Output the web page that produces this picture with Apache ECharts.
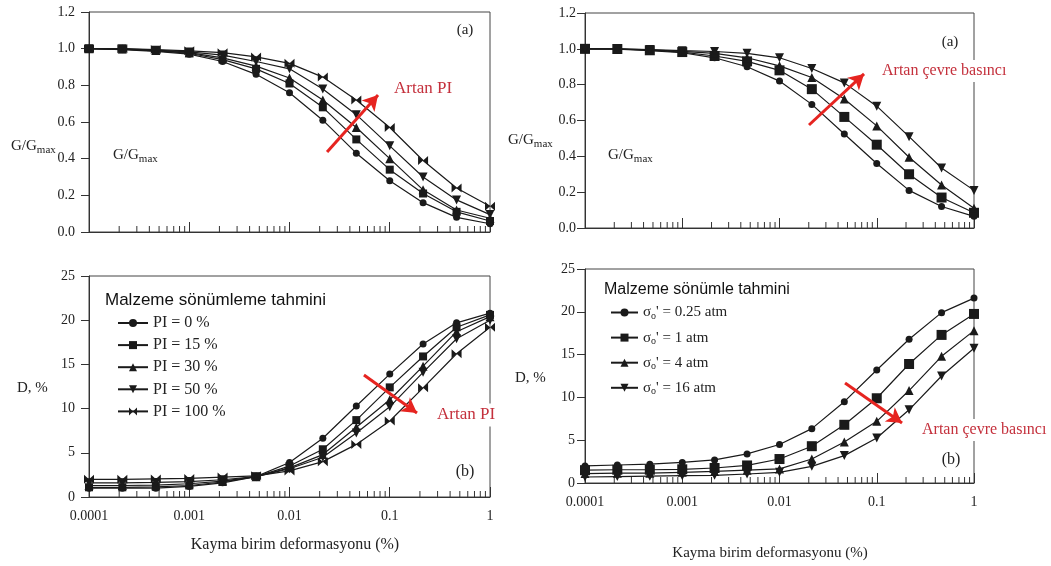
<!DOCTYPE html>
<html><head><meta charset="utf-8">
<script src="https://cdn.jsdelivr.net/npm/echarts@6/dist/echarts.min.js"></script>
<style>html,body{margin:0;padding:0;background:#fff}#c{width:1051px;height:566px}</style>
</head><body><div id="c"></div>
<script>
// ---- data ----
const strain = [0.0001, 0.000215, 0.000464, 0.001, 0.00215, 0.00464, 0.01, 0.0215, 0.0464, 0.1, 0.215, 0.464, 1];
const xTickLabels = {0.0001: '0.0001', 0.001: '0.001', 0.01: '0.01', 0.1: '0.1', 1: '1'};
const minorTickValues = [0.0002,0.0003,0.0004,0.0005,0.0006,0.0007,0.0008,0.0009,
  0.002,0.003,0.004,0.005,0.006,0.007,0.008,0.009,
  0.02,0.03,0.04,0.05,0.06,0.07,0.08,0.09,
  0.2,0.3,0.4,0.5,0.6,0.7,0.8,0.9];

const piNames = ['PI = 0 %', 'PI = 15 %', 'PI = 30 %', 'PI = 50 %', 'PI = 100 %'];
const gPI0   = [1.0, 0.995, 0.985, 0.97, 0.93, 0.86, 0.76, 0.61, 0.43, 0.28, 0.16, 0.08, 0.045];
const gPI15  = [1.0, 0.997, 0.988, 0.975, 0.94, 0.89, 0.81, 0.68, 0.505, 0.34, 0.21, 0.11, 0.06];
const gPI30  = [1.0, 0.998, 0.99, 0.978, 0.95, 0.905, 0.84, 0.72, 0.57, 0.40, 0.23, 0.12, 0.075];
const gPI50  = [1.0, 0.999, 0.992, 0.982, 0.965, 0.93, 0.89, 0.78, 0.64, 0.47, 0.30, 0.175, 0.095];
const gPI100 = [1.0, 1.0, 0.995, 0.988, 0.978, 0.955, 0.92, 0.845, 0.72, 0.57, 0.39, 0.24, 0.14];

const dPI0   = [1.0, 1.0, 1.0, 1.2, 1.6, 2.3, 3.9, 6.65, 10.3, 13.9, 17.3, 19.7, 20.8];
const dPI15  = [1.1, 1.1, 1.15, 1.3, 1.7, 2.3, 3.5, 5.4, 8.7, 12.4, 15.9, 19.2, 20.6];
const dPI30  = [1.3, 1.3, 1.35, 1.5, 1.8, 2.3, 3.3, 4.8, 7.9, 11.0, 14.8, 18.7, 20.4];
const dPI50  = [1.6, 1.6, 1.65, 1.75, 1.95, 2.3, 3.2, 4.5, 7.25, 10.2, 14.1, 17.9, 20.0];
const dPI100 = [2.0, 2.0, 2.05, 2.1, 2.25, 2.4, 2.95, 4.0, 5.95, 8.6, 12.35, 16.2, 19.2];

const sigNames = ["σo' = 0.25 atm", "σo' = 1 atm", "σo' = 4 atm", "σo' = 16 atm"];
const gS025 = [1.0, 0.998, 0.99, 0.978, 0.95, 0.90, 0.82, 0.69, 0.525, 0.36, 0.21, 0.12, 0.065];
const gS1   = [1.0, 0.999, 0.992, 0.982, 0.96, 0.93, 0.88, 0.775, 0.62, 0.465, 0.30, 0.17, 0.085];
const gS4   = [1.0, 1.0, 0.994, 0.986, 0.975, 0.95, 0.905, 0.84, 0.72, 0.57, 0.395, 0.24, 0.11];
const gS16  = [1.0, 1.0, 0.996, 0.99, 0.985, 0.975, 0.95, 0.89, 0.81, 0.68, 0.51, 0.335, 0.21];

const dS025 = [2.0, 2.1, 2.2, 2.4, 2.7, 3.4, 4.5, 6.35, 9.5, 13.2, 16.8, 19.9, 21.6];
const dS1   = [1.5, 1.55, 1.55, 1.6, 1.75, 2.05, 2.8, 4.3, 6.8, 9.9, 13.9, 17.3, 19.75];
const dS4   = [1.1, 1.15, 1.15, 1.25, 1.35, 1.5, 1.65, 2.8, 4.8, 7.2, 10.8, 14.8, 17.8];
const dS16  = [0.7, 0.75, 0.8, 0.85, 0.9, 1.05, 1.25, 1.95, 3.2, 5.25, 8.55, 12.5, 15.75];

// ---- styling ----
const SERIF = 'Liberation Serif';
const SANS = 'Liberation Sans';
const INK = '#1a1a1a';
const RED_TXT = '#c4303c';
const RED_ARR = '#e62420';
const invTri = 'path://M0,0L10,0L5,10Z';
const bowtie = 'path://M0,0L5,5L0,10ZM10,0L5,5L10,10Z';
const piSymbols = [['circle', 7], ['rect', 8], ['triangle', 9], [invTri, 9], [bowtie, [10, 9]]];
const sigSymbols = [['circle', 7], ['rect', 10], ['triangle', 9], [invTri, 9]];

const grids = [
  {left: 89, top: 12, width: 401, height: 220},
  {left: 89, top: 276, width: 401, height: 221},
  {left: 585, top: 13, width: 389, height: 215},
  {left: 585, top: 269, width: 389, height: 214}
];

function xAxisFor(i, showLabels) {
  return {
    type: 'log', logBase: 10, gridIndex: i, min: 0.0001, max: 1,
    axisLine: {lineStyle: {color: '#333', width: 1}},
    axisTick: {inside: true, length: 10, lineStyle: {color: '#333'}},
    axisLabel: {show: showLabels, margin: 12, fontFamily: SERIF, fontSize: 14, color: '#222',
      formatter: v => xTickLabels[v] !== undefined ? xTickLabels[v] : (+v).toString()},
    splitLine: {show: false}
  };
}
function yAxisFor(i, max, interval, dec, margin) {
  return {
    type: 'value', gridIndex: i, min: 0, max: max, interval: interval,
    axisLine: {show: true, lineStyle: {color: '#333', width: 1}},
    axisTick: {show: true, length: 8, lineStyle: {color: '#333'}},
    axisLabel: {margin: margin, fontFamily: SERIF, fontSize: 14, color: '#222',
      formatter: v => dec ? v.toFixed(1) : String(v)},
    splitLine: {show: false}
  };
}

function lineSeries(name, vals, sym, gi) {
  return {
    type: 'line', name: name, xAxisIndex: gi, yAxisIndex: gi,
    data: strain.map((x, k) => [x, vals[k]]),
    symbol: sym[0], symbolSize: sym[1], showSymbol: true,
    lineStyle: {color: INK, width: 1.2},
    itemStyle: {color: INK, borderWidth: 0},
    z: 3, animation: false
  };
}
function minorTickSeries(gi) {
  return {
    type: 'custom', xAxisIndex: gi, yAxisIndex: gi, silent: true, z: 2,
    data: minorTickValues.map(v => [v, 0]),
    renderItem: (p, api) => {
      const pt = api.coord([api.value(0), api.value(1)]);
      return {type: 'line', shape: {x1: pt[0], y1: pt[1], x2: pt[0], y2: pt[1] - 6},
        style: {stroke: '#333', lineWidth: 1}};
    }
  };
}
function arrow(gi, from, to) {
  return {
    type: 'line', xAxisIndex: gi, yAxisIndex: gi, data: [], silent: true, z: 5,
    markLine: {
      silent: true, symbol: ['none', 'arrow'], symbolSize: [13, 15], animation: false,
      lineStyle: {color: RED_ARR, width: 3, type: 'solid'}, label: {show: false},
      data: [[{coord: from}, {coord: to}]]
    }
  };
}

const series = [];
[gPI0, gPI15, gPI30, gPI50, gPI100].forEach((v, k) => series.push(lineSeries(piNames[k], v, piSymbols[k], 0)));
[dPI0, dPI15, dPI30, dPI50, dPI100].forEach((v, k) => series.push(lineSeries(piNames[k], v, piSymbols[k], 1)));
[gS025, gS1, gS4, gS16].forEach((v, k) => series.push(lineSeries(sigNames[k], v, sigSymbols[k], 2)));
[dS025, dS1, dS4, dS16].forEach((v, k) => series.push(lineSeries(sigNames[k], v, sigSymbols[k], 3)));
[0, 1, 2, 3].forEach(g => series.push(minorTickSeries(g)));
series.push(arrow(0, [0.0237, 0.436], [0.0764, 0.747]));
series.push(arrow(1, [0.0553, 13.8], [0.187, 9.5]));
series.push(arrow(2, [0.0201, 0.575], [0.074, 0.86]));
series.push(arrow(3, [0.0472, 11.68], [0.182, 7.01]));

function txt(text, x, y, size, opts) {
  return Object.assign({type: 'text', z: 20, style: Object.assign({
    text: text, x: x, y: y, font: size + 'px "' + SERIF + '"', fill: '#222',
    align: 'left', verticalAlign: 'middle'}, opts || {})});
}
function gmax(x, y) {
  return {type: 'text', z: 20, style: {
    text: '{a|G/G}{s|max}', x: x, y: y, align: 'left', verticalAlign: 'middle', fill: '#222',
    rich: {a: {fontFamily: SERIF, fontSize: 15, fill: '#222'},
           s: {fontFamily: SERIF, fontSize: 11, fill: '#222', padding: [9, 0, 0, 0]}}
  }};
}
const redBox = {backgroundColor: '#fff', padding: [3, 2, 3, 2]};

const graphic = [
  gmax(11, 146), gmax(113, 155), gmax(508, 140), gmax(608, 155),
  txt('(a)', 465, 30, 15, {align: 'center'}),
  txt('(a)', 950, 42, 15, {align: 'center'}),
  txt('(b)', 465, 472, 16, {align: 'center'}),
  txt('(b)', 951, 460, 16, {align: 'center'}),
  txt('D, %', 17, 388, 15),
  txt('D, %', 515, 378, 15),
  txt('Kayma birim deformasyonu (%)', 295, 545, 16, {align: 'center'}),
  txt('Kayma birim deformasyonu (%)', 770, 553, 15, {align: 'center'}),
  txt('Artan PI', 392, 89, 17, Object.assign({fill: RED_TXT}, redBox)),
  txt('Artan PI', 435, 415, 17, Object.assign({fill: RED_TXT}, redBox)),
  txt('Artan çevre basıncı', 880, 71, 16, Object.assign({fill: RED_TXT}, redBox)),
  txt('Artan çevre basıncı', 920, 430, 16, Object.assign({fill: RED_TXT}, redBox)),
  {type: 'text', z: 20, style: {text: 'Malzeme sönümleme tahmini', x: 105, y: 300,
    font: '17px "' + SANS + '"', fill: '#111', verticalAlign: 'middle'}},
  {type: 'text', z: 20, style: {text: 'Malzeme sönümle tahmini', x: 604, y: 290,
    font: '16px "' + SANS + '"', fill: '#111', verticalAlign: 'middle'}}
];

const sigRich = {
  "σo' = 0.25 atm": "σ{s|o}' = 0.25 atm",
  "σo' = 1 atm": "σ{s|o}' = 1 atm",
  "σo' = 4 atm": "σ{s|o}' = 4 atm",
  "σo' = 16 atm": "σ{s|o}' = 16 atm"
};

const option = {
  backgroundColor: '#fff',
  animation: false,
  grid: grids.map(g => Object.assign({show: true, borderColor: '#444', borderWidth: 1, backgroundColor: 'transparent'}, g)),
  xAxis: [xAxisFor(0, false), xAxisFor(1, true), xAxisFor(2, false), xAxisFor(3, true)],
  yAxis: [yAxisFor(0, 1.2, 0.2, true, 14), yAxisFor(1, 25, 5, false, 14),
          yAxisFor(2, 1.2, 0.2, true, 9), yAxisFor(3, 25, 5, false, 10)],
  legend: [
    {left: 112, top: 310, orient: 'vertical', itemWidth: 30, itemHeight: 10, itemGap: 6.1,
     selectedMode: false, data: piNames,
     textStyle: {fontFamily: SERIF, fontSize: 16, color: '#222'}},
    {left: 605, top: 300, orient: 'vertical', itemWidth: 27, itemHeight: 10, itemGap: 8.6,
     selectedMode: false, data: sigNames,
     formatter: n => sigRich[n] || n,
     textStyle: {fontFamily: SERIF, fontSize: 15, color: '#222',
       rich: {s: {fontFamily: SERIF, fontSize: 10, color: '#222', padding: [8, 0, 0, 0]}}}}
  ],
  series: series,
  graphic: graphic
};

const chart = echarts.init(document.getElementById('c'), null, {renderer: 'canvas'});
chart.setOption(option);
</script>
</body></html>
